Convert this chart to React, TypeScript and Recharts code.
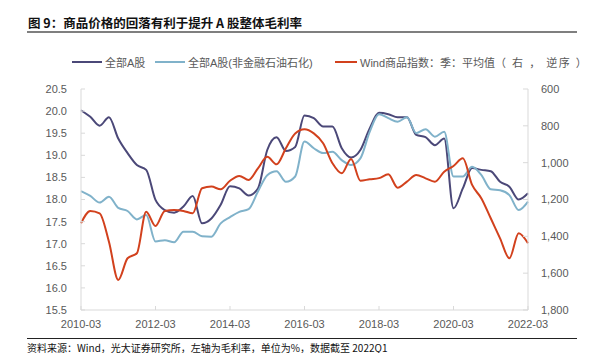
import React from 'react'
import { LineChart, Line, XAxis, YAxis } from 'recharts'

// ─── Data ────────────────────────────────────────────────────────────

const quarters = [
    '2010-03', '2010-06', '2010-09', '2010-12',
    '2011-03', '2011-06', '2011-09', '2011-12',
    '2012-03', '2012-06', '2012-09', '2012-12',
    '2013-03', '2013-06', '2013-09', '2013-12',
    '2014-03', '2014-06', '2014-09', '2014-12',
    '2015-03', '2015-06', '2015-09', '2015-12',
    '2016-03', '2016-06', '2016-09', '2016-12',
    '2017-03', '2017-06', '2017-09', '2017-12',
    '2018-03', '2018-06', '2018-09', '2018-12',
    '2019-03', '2019-06', '2019-09', '2019-12',
    '2020-03', '2020-06', '2020-09', '2020-12',
    '2021-03', '2021-06', '2021-09', '2021-12',
    '2022-03',
]

// 全部A股 毛利率 (%)
const allA = [
    20.02, 19.87, 19.67, 19.86, 19.38, 19.05, 18.78, 18.67,
    17.99, 17.76, 17.70, 17.84, 18.08, 17.46, 17.57, 17.88,
    18.30, 18.25, 18.09, 18.25, 19.12, 19.41, 19.10, 19.19,
    19.90, 19.84, 19.65, 19.65, 19.16, 18.95, 19.12, 19.61,
    19.96, 19.93, 19.86, 19.86, 19.46, 19.41, 19.23, 19.38,
    17.80, 18.25, 18.71, 18.67, 18.64, 18.40, 18.29, 18.00,
    18.14,
]

// 全部A股(非金融石油石化) 毛利率 (%)
const allAExFin = [
    18.19, 18.08, 17.93, 18.06, 17.81, 17.74, 17.55, 17.65,
    17.05, 17.08, 17.03, 17.27, 17.27, 17.17, 17.16, 17.46,
    17.60, 17.72, 17.78, 18.18, 18.55, 18.64, 18.40, 18.52,
    19.31, 19.16, 19.05, 19.08, 18.89, 18.78, 18.93, 19.53,
    19.93, 19.84, 19.76, 19.86, 19.50, 19.59, 19.42, 19.53,
    18.52, 18.52, 18.74, 18.55, 18.23, 18.21, 18.10, 17.76,
    17.95,
]

// Wind商品指数:季:平均值 (右轴, 逆序)
const windCommodity = [
    1329, 1262, 1275, 1429, 1637, 1519, 1492, 1266,
    1344, 1262, 1257, 1262, 1275, 1139, 1130, 1145,
    1098, 1072, 1094, 1031, 968, 1009, 922, 841,
    819, 841, 895, 1003, 1058, 980, 1098, 1090,
    1084, 1063, 1136, 1103, 1067, 1085, 1103, 1049,
    1018, 976, 1121, 1194, 1302, 1411, 1519, 1383,
    1438,
]

const leftTicks = [15.5, 16.0, 16.5, 17.0, 17.5, 18.0, 18.5, 19.0, 19.5, 20.0, 20.5]
const rightTicks = [600, 800, 1000, 1200, 1400, 1600, 1800]

const chartData = quarters.map((q, i) => ({
    q,
    allA: allA[i],
    allAExFin: allAExFin[i],
    wind: windCommodity[i],
}))

// ─── Styles ──────────────────────────────────────────────────────────

const FONT = '"Liberation Sans", "Noto Sans CJK SC", sans-serif'
const CJK = '"Noto Sans CJK SC", sans-serif'
const DARK = '#4b4878'
const LIGHT = '#80b2ca'
const RED = '#d2411d'
const AXIS = '#d9d9d9'
const TEXT = '#595959'

const legendItems = [
    { label: '全部A股', suffix: '', color: DARK, left: 72, width: 30 },
    { label: '全部A股(非金融石油石化)', suffix: '', color: LIGHT, left: 155, width: 30 },
    { label: 'Wind商品指数：季：平均值', suffix: '（ 右 ， 逆序 ）', color: RED, left: 335, width: 22 },
]

export default function App() {
    return (
        <div style={{ position: 'relative', width: 603, height: 361, margin: -8, background: '#fff', fontFamily: FONT, overflow: 'hidden' }}>
            <div style={{ position: 'absolute', left: 28, top: 13, fontSize: 12.5, fontWeight: 'bold', color: '#111', fontFamily: CJK, whiteSpace: 'nowrap' }}>
                图 9：商品价格的回落有利于提升 A 股整体毛利率
            </div>
            <div style={{ position: 'absolute', left: 27, top: 31, width: 550, height: 1.5, background: '#7f7f7f' }} />

            {legendItems.map((it) => (
                <div key={it.label} style={{ position: 'absolute', left: it.left, top: 54, height: 16, display: 'flex', alignItems: 'center', fontSize: 11, color: TEXT, whiteSpace: 'nowrap' }}>
                    <span style={{ display: 'inline-block', width: it.width, height: 2, background: it.color, marginRight: 3 }} />
                    {it.label}
                    {it.suffix && <span style={{ letterSpacing: 1.5 }}>{it.suffix}</span>}
                </div>
            ))}

            <div style={{ position: 'absolute', left: 0, top: 0 }}>
                <LineChart width={603} height={361} data={chartData} margin={{ top: 89, right: 0, bottom: 31, left: 0 }}>
                    <XAxis
                        dataKey="q"
                        interval={7}
                        stroke={AXIS}
                        tickSize={-4}
                        tickMargin={14}
                        height={20}
                        tick={{ fill: TEXT, fontSize: 11, fontFamily: FONT }}
                    />
                    <YAxis
                        yAxisId="left"
                        orientation="left"
                        width={81}
                        domain={[15.5, 20.5]}
                        ticks={leftTicks}
                        stroke={AXIS}
                        tickSize={-4}
                        tickMargin={18}
                        tickFormatter={(v: number) => v.toFixed(1)}
                        tick={{ fill: TEXT, fontSize: 11, fontFamily: FONT }}
                    />
                    <YAxis
                        yAxisId="right"
                        orientation="right"
                        width={75}
                        domain={[600, 1800]}
                        reversed
                        ticks={rightTicks}
                        stroke={AXIS}
                        tickSize={-5}
                        tickMargin={18}
                        tickFormatter={(v: number) => v.toLocaleString('en-US')}
                        tick={{ fill: TEXT, fontSize: 11, fontFamily: FONT, textAnchor: 'start' }}
                    />
                    <Line yAxisId="left" type="monotone" dataKey="allA" stroke={DARK} strokeWidth={2} dot={false} isAnimationActive={false} />
                    <Line yAxisId="left" type="monotone" dataKey="allAExFin" stroke={LIGHT} strokeWidth={2} dot={false} isAnimationActive={false} />
                    <Line yAxisId="right" type="monotone" dataKey="wind" stroke={RED} strokeWidth={2} dot={false} isAnimationActive={false} />
                </LineChart>
            </div>

            <div style={{ position: 'absolute', left: 27, top: 338, width: 550, height: 1, background: '#222' }} />
            <div style={{ position: 'absolute', left: 27, top: 340, fontSize: 10, color: '#111', fontFamily: CJK, whiteSpace: 'nowrap' }}>
                资料来源：Wind，光大证券研究所，左轴为毛利率，单位为%，数据截至 2022Q1
            </div>
        </div>
    )
}
